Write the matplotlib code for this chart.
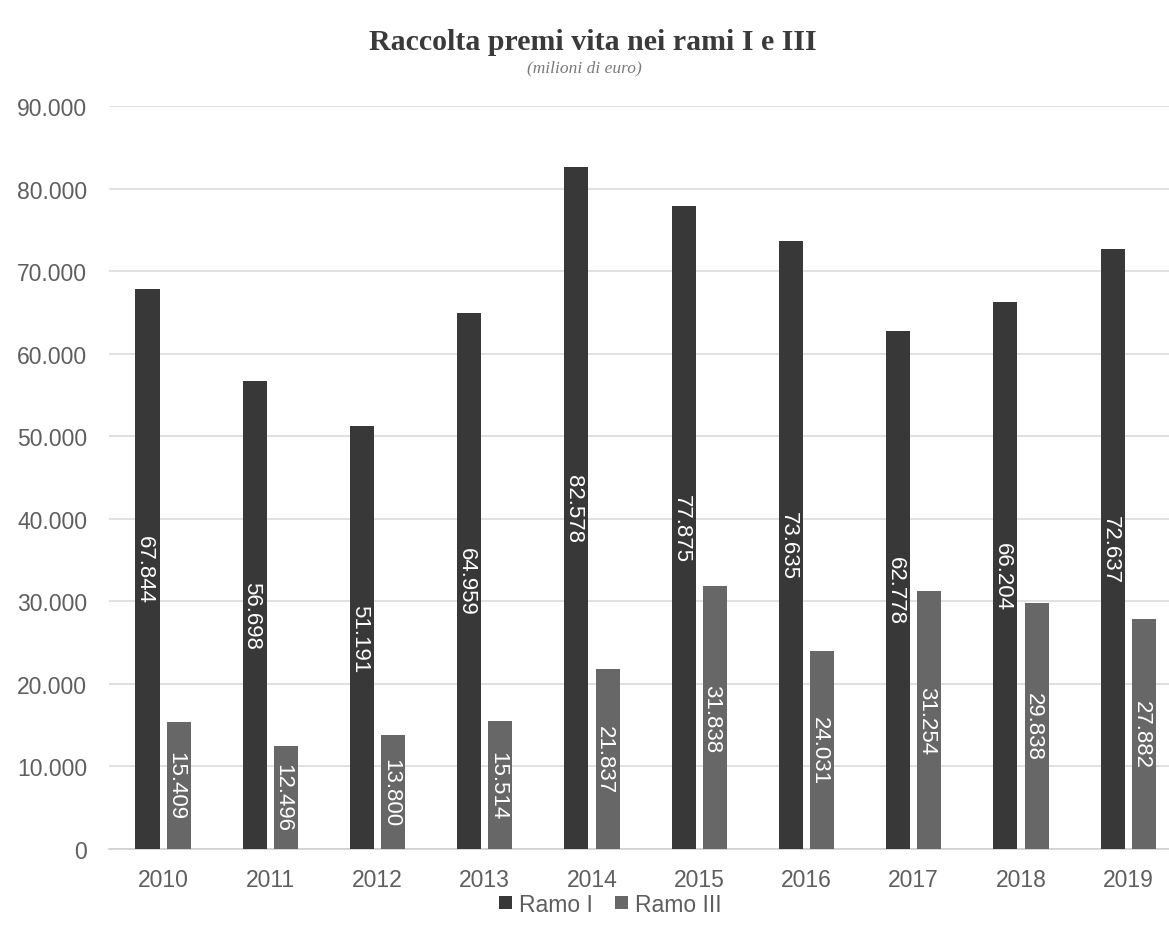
import numpy as np
import matplotlib.pyplot as plt
from matplotlib.ticker import FuncFormatter
from matplotlib.transforms import offset_copy

# Data
years = ['2010', '2011', '2012', '2013', '2014', '2015', '2016', '2017', '2018', '2019']
ramo_1 = [67844, 56698, 51191, 64959, 82578, 77875, 73635, 62778, 66204, 72637]
ramo_3 = [15409, 12496, 13800, 15514, 21837, 31838, 24031, 31254, 29838, 27882]


def fmt_it(v, pos=None):
    # thousands separator with a dot, Italian style
    return f'{int(round(v)):,}'.replace(',', '.')


fig = plt.figure(figsize=(11.69, 9.37), dpi=100)
ax = fig.add_axes([0.0936, 0.0928, 0.9174, 0.793])

x = np.arange(len(years))
w = 0.224
off = 0.145
b1 = ax.bar(x - off, ramo_1, w, color='#383838', label='Ramo I', zorder=3)
b3 = ax.bar(x + off, ramo_3, w, color='#676767', label='Ramo III', zorder=3)

# value labels, rotated, centred in each bar
lbl_tr = offset_copy(ax.transData, fig=fig, x=-2.0, y=0, units='points')
for bars, vals in ((b1, ramo_1), (b3, ramo_3)):
    for r, v in zip(bars, vals):
        ax.text(r.get_x() + r.get_width() / 2, v / 2, fmt_it(v), transform=lbl_tr,
                rotation=-90, ha='center', va='center', color='white',
                fontsize=16, family='Liberation Sans', zorder=4)

ax.set_ylim(0, 90000)
ax.set_xlim(-0.5, 9.5)
ax.set_yticks(np.arange(0, 90001, 10000))
ax.yaxis.set_major_formatter(FuncFormatter(fmt_it))
ax.set_xticks(x)
ax.set_xticklabels(years)
ax.grid(axis='y', color='#dcdcdc', linewidth=1.2, zorder=0)
for s in ['top', 'right', 'left']:
    ax.spines[s].set_visible(False)
ax.spines['bottom'].set_color('#d0d0d0')
ax.spines['bottom'].set_linewidth(1.2)
ax.tick_params(length=0, labelsize=16.5, labelcolor='#5e5e5e', pad=14)
for t in ax.get_xticklabels() + ax.get_yticklabels():
    t.set_family('Liberation Sans')
ax.tick_params(axis='y', pad=16)

fig.text(0.507, 0.955, 'Raccolta premi vita nei rami I e III', ha='center', va='center',
         fontsize=21.5, fontweight='bold', family='Liberation Serif', color='#3a3a3a')
fig.text(0.5, 0.927, '(milioni di euro)', ha='center', va='center',
         fontsize=12.5, style='italic', family='Liberation Serif', color='#7a7a7a')

leg = fig.legend(handles=[b1, b3], loc='center', bbox_to_anchor=(0.522, 0.034), ncol=2,
                 frameon=False, handlelength=0.55, handleheight=0.55, handletextpad=0.3,
                 columnspacing=1.0, prop={'family': 'Liberation Sans', 'size': 16.5})
for t in leg.get_texts():
    t.set_color('#5e5e5e')

fig.savefig('out.png', dpi=100, facecolor='white')
